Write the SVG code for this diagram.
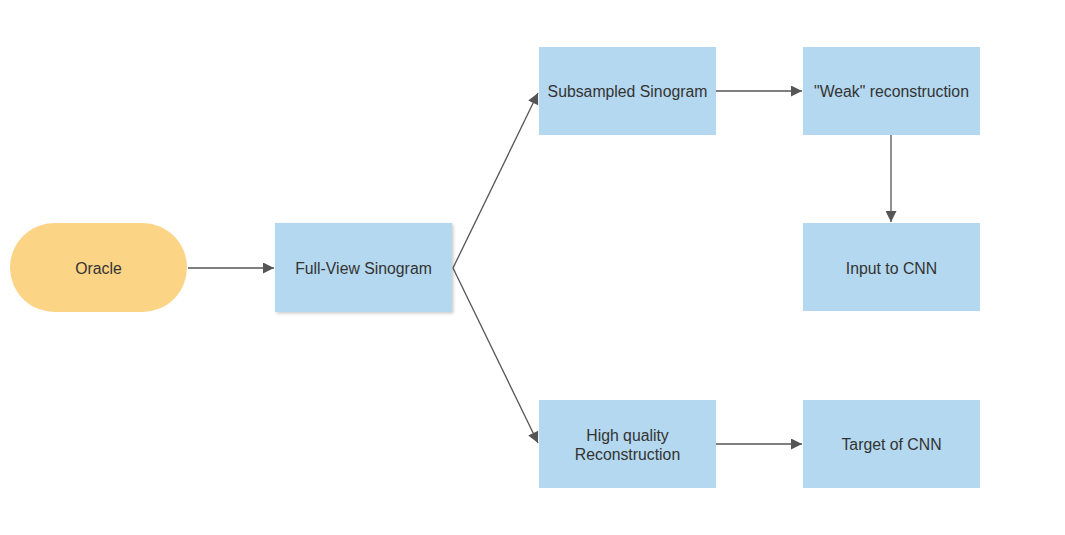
<svg xmlns="http://www.w3.org/2000/svg" width="1065" height="535" viewBox="0 0 1065 535">
<style>
.box{fill:#b4d8ef;}
.term{fill:#fbd486;}
.lbl{font-family:"Liberation Sans",Arial,sans-serif;font-size:15.8px;fill:#333;text-anchor:middle;dominant-baseline:central;}
.con{stroke:#555;stroke-width:1.3;fill:none;marker-end:url(#ah);}
</style>
<defs>
<marker id="ah" viewBox="0 0 10 10" refX="10" refY="5" markerWidth="12" markerHeight="11" markerUnits="userSpaceOnUse" orient="auto">
<path d="M0,0 L10,5 L0,10 z" fill="#555"/>
</marker>
<filter id="sh" x="-10%" y="-10%" width="130%" height="130%">
<feDropShadow dx="1.5" dy="1.5" stdDeviation="1.5" flood-color="#000" flood-opacity="0.2"/>
</filter>
</defs>
<rect width="1065" height="535" fill="#fff"/>
<g id="connectors">
<path class="con" d="M188,268 L274,268"/>
<path class="con" d="M453,268 L538,93"/>
<path class="con" d="M453,268 L538,443"/>
<path class="con" d="M716,91 L802,91"/>
<path class="con" d="M891,135 L891,222"/>
<path class="con" d="M716,444 L802,444"/>
</g>
<g id="oracle"><rect class="term" x="10" y="223" width="177" height="89" rx="44.5"/><text class="lbl" x="98.5" y="268">Oracle</text></g>
<g id="fullview"><rect class="box" x="275" y="223" width="177" height="89" filter="url(#sh)"/><text class="lbl" x="363.5" y="268">Full-View Sinogram</text></g>
<g id="subsampled"><rect class="box" x="539" y="47" width="177" height="88"/><text class="lbl" x="627.5" y="91">Subsampled Sinogram</text></g>
<g id="weak"><rect class="box" x="803" y="47" width="177" height="88"/><text class="lbl" x="891.5" y="91">"Weak" reconstruction</text></g>
<g id="input"><rect class="box" x="803" y="223" width="177" height="88"/><text class="lbl" x="891.5" y="268">Input to CNN</text></g>
<g id="hq"><rect class="box" x="539" y="400" width="177" height="88"/><text class="lbl" x="627.5" y="435">High quality</text><text class="lbl" x="627.5" y="454">Reconstruction</text></g>
<g id="target"><rect class="box" x="803" y="400" width="177" height="88"/><text class="lbl" x="891.5" y="444">Target of CNN</text></g>
</svg>
